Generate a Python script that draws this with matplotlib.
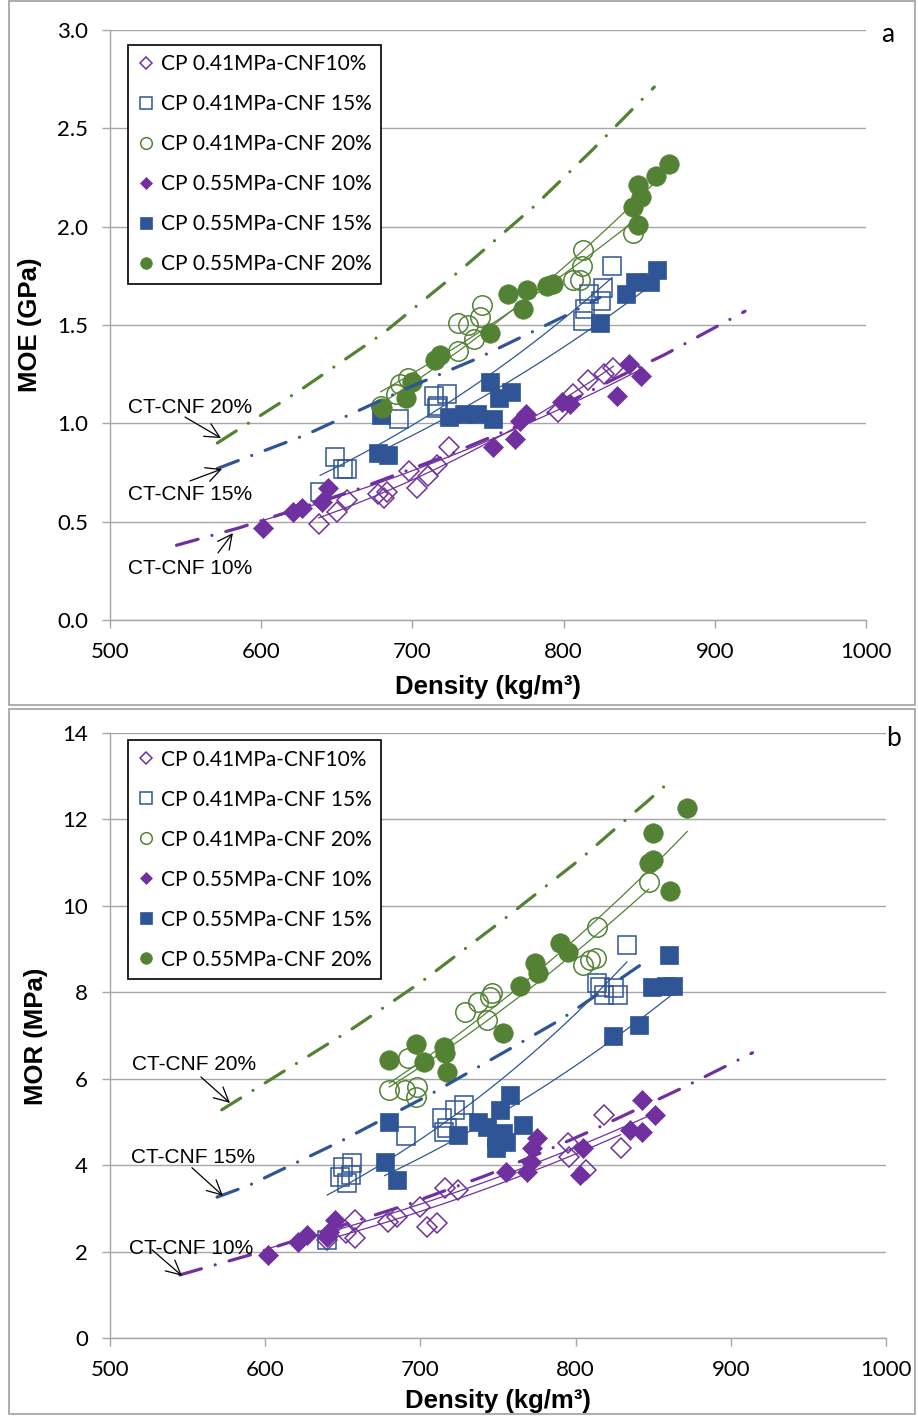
import numpy as np
import matplotlib
matplotlib.use("Agg")
from matplotlib import pyplot as plt
from matplotlib.patches import Rectangle

# ---- data ----
labels = ["CP 0.41MPa-CNF10%", "CP 0.41MPa-CNF 15%", "CP 0.41MPa-CNF 20%",
          "CP 0.55MPa-CNF 10%", "CP 0.55MPa-CNF 15%", "CP 0.55MPa-CNF 20%"]

# panel a: MOE (GPa)
moe_d_41_10 = [638, 650, 657, 677, 681, 683, 698, 703, 710, 716, 724, 796, 806, 816, 827, 833]
moe_41_10 = [0.49, 0.55, 0.61, 0.64, 0.62, 0.65, 0.76, 0.67, 0.73, 0.79, 0.88, 1.06, 1.15, 1.22, 1.25, 1.28]
moe_d_41_15 = [639, 649, 654, 657, 691, 714, 716, 717, 723, 813, 814, 817, 825, 826, 832]
moe_41_15 = [0.65, 0.83, 0.77, 0.77, 1.02, 1.14, 1.08, 1.09, 1.15, 1.52, 1.58, 1.66, 1.62, 1.69, 1.80]
moe_d_41_20 = [679, 689, 692, 697, 730, 730, 737, 741, 745, 746, 806, 811, 812, 813, 846]
moe_41_20 = [1.09, 1.15, 1.20, 1.23, 1.37, 1.51, 1.50, 1.43, 1.54, 1.60, 1.73, 1.73, 1.80, 1.88, 1.97]
moe_d_55_10 = [601, 621, 627, 640, 644, 753, 768, 771, 775, 799, 804, 835, 843, 851]
moe_55_10 = [0.47, 0.55, 0.57, 0.60, 0.67, 0.88, 0.92, 1.01, 1.05, 1.11, 1.10, 1.14, 1.30, 1.24]
moe_d_55_15 = [677, 684, 679, 724, 734, 743, 751, 753, 757, 765, 824, 841, 847, 857, 862]
moe_55_15 = [0.85, 0.84, 1.04, 1.03, 1.05, 1.05, 1.21, 1.02, 1.13, 1.16, 1.51, 1.66, 1.72, 1.72, 1.78]
moe_d_55_20 = [680, 696, 700, 715, 718, 751, 763, 773, 776, 789, 793, 846, 849, 849, 851, 861, 870]
moe_55_20 = [1.08, 1.13, 1.21, 1.32, 1.35, 1.46, 1.66, 1.58, 1.68, 1.70, 1.71, 2.10, 2.01, 2.21, 2.15, 2.26, 2.32]

# CT-CNF model curves, panel a
ct_moe_d_10 = [544, 586, 662, 724, 786, 832, 867, 920]
ct_moe_10 = [0.38, 0.47, 0.66, 0.84, 1.04, 1.22, 1.35, 1.57]
ct_moe_d_15 = [571, 629, 697, 743, 802, 824]
ct_moe_15 = [0.77, 0.94, 1.18, 1.33, 1.55, 1.64]
ct_moe_d_20 = [571, 626, 681, 732, 780, 819, 860]
ct_moe_20 = [0.90, 1.17, 1.46, 1.78, 2.10, 2.39, 2.71]

# panel b: MOR (MPa)
mor_d_41_10 = [640, 652, 658, 658, 679, 685, 700, 704, 711, 716, 724, 795, 796, 807, 818, 829]
mor_41_10 = [2.27, 2.43, 2.31, 2.73, 2.69, 2.80, 3.03, 2.57, 2.66, 3.47, 3.43, 4.51, 4.19, 3.89, 5.16, 4.40]
mor_d_41_15 = [640, 648, 650, 653, 655, 656, 691, 714, 715, 717, 722, 728, 814, 816, 818, 825, 827, 833]
mor_41_15 = [2.27, 3.73, 3.96, 3.59, 3.77, 4.05, 4.68, 5.09, 4.77, 4.86, 5.28, 5.39, 8.22, 8.12, 7.94, 8.10, 7.94, 9.10]
mor_d_41_20 = [680, 690, 692, 698, 697, 729, 737, 743, 745, 746, 805, 809, 813, 814, 847]
mor_41_20 = [5.74, 5.74, 6.48, 5.81, 5.58, 7.55, 7.78, 7.36, 7.89, 7.99, 8.63, 8.75, 8.80, 9.51, 10.56]
mor_d_55_10 = [602, 621, 627, 640, 641, 645, 755, 769, 771, 772, 775, 803, 805, 835, 843, 843, 851]
mor_55_10 = [1.92, 2.22, 2.38, 2.34, 2.45, 2.73, 3.84, 3.84, 4.07, 4.40, 4.63, 3.77, 4.40, 4.81, 4.77, 5.51, 5.16]
mor_d_55_15 = [677, 680, 685, 724, 737, 743, 749, 749, 751, 753, 755, 758, 766, 824, 841, 849, 858, 860, 863]
mor_55_15 = [4.07, 5.00, 3.66, 4.70, 5.00, 4.88, 4.63, 4.40, 5.28, 4.74, 4.54, 5.63, 4.93, 6.99, 7.25, 8.12, 8.15, 8.87, 8.15]
mor_d_55_20 = [680, 697, 702, 715, 716, 717, 753, 764, 774, 776, 790, 795, 847, 850, 850, 861, 872]
mor_55_20 = [6.44, 6.81, 6.39, 6.74, 6.60, 6.16, 7.06, 8.15, 8.68, 8.45, 9.14, 8.94, 11.00, 11.06, 11.69, 10.35, 12.27]

# CT-CNF model curves, panel b
ct_mor_d_10 = [545, 590, 691, 743, 782, 811, 869, 914]
ct_mor_10 = [1.46, 1.92, 3.08, 3.77, 4.35, 4.81, 5.79, 6.60]
ct_mor_d_15 = [569, 590, 648, 706, 762, 790, 843]
ct_mor_15 = [3.26, 3.54, 4.54, 5.63, 6.78, 7.36, 8.66]
ct_mor_d_20 = [572, 655, 674, 701, 752, 803, 827, 846, 861]
ct_mor_20 = [5.28, 7.13, 7.59, 8.25, 9.64, 11.08, 11.83, 12.41, 12.89]

ct_labels = ["CT-CNF 10%", "CT-CNF 15%", "CT-CNF 20%"]

# ---- styling ----
PURPLE = "#7030A0"
BLUE = "#2F5597"
GREEN = "#548235"
GRID = "#A6A6A6"
colors = [PURPLE, BLUE, GREEN, PURPLE, BLUE, GREEN]
markers = ["D", "s", "o", "D", "s", "o"]
filled = [False, False, False, True, True, True]
msizes = {"D": 10.5, "s": 13.5, "o": 14.0}

W, H = 918, 1416
fig = plt.figure(figsize=(W / 100, H / 100), dpi=100)


def px_axes(left, top, right, bottom):
    return fig.add_axes([left / W, 1 - bottom / H, (right - left) / W, (bottom - top) / H])


def power_trend(ax, d, y, color):
    d = np.asarray(d, float)
    y = np.asarray(y, float)
    b, a = np.polyfit(np.log(d), np.log(y), 1)
    xs = np.linspace(d.min(), d.max(), 50)
    ax.plot(xs, np.exp(a) * xs ** b, color=color, lw=0.9, zorder=3)


def draw_panel(ax, series, curves, ymax, ystep, yfmt, notes, leg_anchor):
    handles = []
    for (d, y), lab, c, m, f in zip(series, labels, colors, markers, filled):
        h, = ax.plot(d, y, linestyle="none", marker=m, ms=msizes[m],
                     mfc=c if f else "none", mec=c, mew=1.1 if not f else 0.5,
                     label=lab, zorder=2)
        handles.append(h)
    for (d, y), c in zip(series, colors):
        power_trend(ax, d, y, c)
    for (d, y), c in zip(curves, [PURPLE, BLUE, GREEN]):
        ax.plot(d, y, color=c, lw=2.3, linestyle=(0, (7, 4.5, 0.01, 4.5)),
                dash_capstyle="round", zorder=4)
    for text_xy, tail, head, lab in notes:
        ax.text(text_xy[0], text_xy[1], lab, ha="left", va="center",
                fontsize=15, family="Liberation Sans", zorder=6)
        ax.annotate("", xy=head, xytext=tail,
                    arrowprops=dict(arrowstyle="->", lw=0.9, color="black",
                                    shrinkA=0, shrinkB=0, mutation_scale=26),
                    zorder=6)

    ax.set_xlim(500, 1000)
    ax.set_ylim(0, ymax)
    ax.set_xticks(np.arange(500, 1001, 100))
    ax.set_yticks(np.arange(0, ymax + 1e-9, ystep))
    ax.set_yticklabels([yfmt.format(v) for v in np.arange(0, ymax + 1e-9, ystep)])
    ax.yaxis.grid(True, color=GRID, lw=1.0)
    ax.set_axisbelow(True)
    for s in ["top", "right"]:
        ax.spines[s].set_visible(False)
    for s in ["left", "bottom"]:
        ax.spines[s].set_color(GRID)
        ax.spines[s].set_linewidth(1.0)
    ax.tick_params(direction="out", length=5.8, width=1.0, color=GRID,
                   labelsize=16, pad=10)
    for t in ax.get_xticklabels() + ax.get_yticklabels():
        t.set_family("Lato")

    leg = ax.legend(handles=handles, loc="upper left", bbox_to_anchor=leg_anchor,
                    borderaxespad=0, fancybox=False, framealpha=1, edgecolor="black",
                    prop={"family": "Lato", "size": 15}, markerscale=0.6,
                    handlelength=0.8, handletextpad=0.35, borderpad=0.45,
                    labelspacing=0.96)
    leg.get_frame().set_linewidth(1.2)
    leg.set_zorder(10)


ax1 = px_axes(110, 30, 866, 620)
ax2 = px_axes(110, 733, 886, 1338)

series_a = [(moe_d_41_10, moe_41_10), (moe_d_41_15, moe_41_15), (moe_d_41_20, moe_41_20),
            (moe_d_55_10, moe_55_10), (moe_d_55_15, moe_55_15), (moe_d_55_20, moe_55_20)]
curves_a = [(ct_moe_d_10, ct_moe_10), (ct_moe_d_15, ct_moe_15), (ct_moe_d_20, ct_moe_20)]
notes_a = [((512, 0.26), (571.4, 0.341), (581.3, 0.442), ct_labels[0]),
           ((512, 0.64), (552.9, 0.707), (574.1, 0.768), ct_labels[1]),
           ((512, 1.08), (549.6, 1.032), (573.4, 0.925), ct_labels[2])]
draw_panel(ax1, series_a, curves_a, 3.0, 0.5, "{:.1f}", notes_a, (0.0238, 0.9746))

series_b = [(mor_d_41_10, mor_41_10), (mor_d_41_15, mor_41_15), (mor_d_41_20, mor_41_20),
            (mor_d_55_10, mor_55_10), (mor_d_55_15, mor_55_15), (mor_d_55_20, mor_55_20)]
curves_b = [(ct_mor_d_10, ct_mor_10), (ct_mor_d_15, ct_mor_15), (ct_mor_d_20, ct_mor_20)]
notes_b = [((512.2, 2.08), (527.1, 2.04), (546.4, 1.44), ct_labels[0]),
           ((513.5, 4.17), (552.8, 3.94), (572.8, 3.29), ct_labels[1]),
           ((514.2, 6.32), (558.6, 6.04), (577.3, 5.44), ct_labels[2])]
draw_panel(ax2, series_b, curves_b, 14, 2, "{:.0f}", notes_b, (0.0232, 0.988))

# axis titles
def ftext(x, y, s, **kw):
    fig.text(x / W, 1 - y / H, s, **kw)

ftext(488, 687, "Density (kg/m³)", ha="center", va="center", fontsize=18.5,
      fontweight="bold", family="Liberation Sans")
ftext(30, 325, "MOE (GPa)", ha="center", va="center", rotation=90, fontsize=18.5,
      fontweight="bold", family="Liberation Sans")
ftext(498, 1401, "Density (kg/m³)", ha="center", va="center", fontsize=18.5,
      fontweight="bold", family="Liberation Sans")
ftext(36, 1036, "MOR (MPa)", ha="center", va="center", rotation=90, fontsize=18.5,
      fontweight="bold", family="Liberation Sans")
ftext(888, 35, "a", ha="center", va="center", fontsize=19, family="Lato")
ftext(893, 738, "b", ha="center", va="center", fontsize=19, family="Lato")

# panel frames
for top, bottom in [(1, 705), (709, 1414)]:
    fig.add_artist(Rectangle((9 / W, 1 - bottom / H), 906 / W, (bottom - top) / H,
                             transform=fig.transFigure, fill=False,
                             edgecolor="#A0A0A0", lw=1.2))

fig.savefig("out.png", dpi=100)
